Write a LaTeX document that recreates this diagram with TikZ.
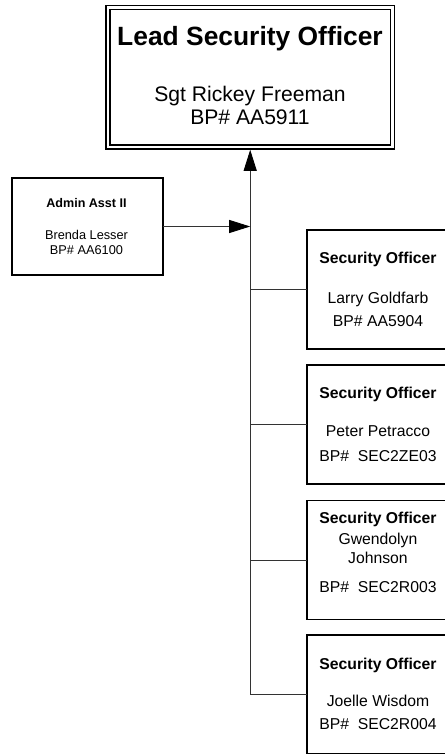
\documentclass[tikz,border=0pt]{standalone}
\usepackage{fontspec}
\setmainfont{Liberation Sans}
\usetikzlibrary{arrows.meta}
\tikzset{
  box/.style={draw=black, line width=1.6bp, rectangle, inner sep=0, outer sep=0},
  topbox/.style={draw=black, line width=1.4bp, double=white, double distance=2.6bp, rectangle, inner sep=0, outer sep=0},
  txt/.style={inner sep=0, outer sep=0, text depth=0pt, anchor=center},
  conn/.style={draw=black!80, line width=0.9bp},
  tip/.style={-{Triangle[length=21bp,width=13bp,fill=black,color=black]}},
  ftitle/.style={font=\fontsize{26.5}{30}\selectfont\bfseries, text height=19bp},
  fbig/.style={font=\fontsize{21.2}{24}\selectfont, text height=15.2bp},
  fadmb/.style={font=\fontsize{12.6}{15}\selectfont\bfseries, text height=9bp},
  fadm/.style={font=\fontsize{12.8}{15}\selectfont, text height=9.2bp},
  fsob/.style={font=\fontsize{15.8}{18}\selectfont\bfseries, text height=11.3bp},
  fso/.style={font=\fontsize{15.8}{18}\selectfont, text height=11.3bp},
}
\begin{document}
\begin{tikzpicture}[x=1bp,y=-1bp]
\useasboundingbox (0,0) rectangle (445,754);
\clip (0,0) rectangle (445,754);
\fill[white] (0,0) rectangle (445,754);
% boxes
\node[topbox, minimum width=284bp, minimum height=139.5bp] (top) at (250.2,77.2) {};
\node[box, minimum width=151bp, minimum height=97bp] (admin) at (87.5,226.5) {};
\node[box, minimum width=142bp, minimum height=119bp] (so1) at (378,289.5) {};
\node[box, minimum width=142bp, minimum height=119bp] (so2) at (378,424.5) {};
\node[box, minimum width=142bp, minimum height=119bp] (so3) at (378,560) {};
\node[box, minimum width=142bp, minimum height=119bp] (so4) at (378,694.5) {};
% texts
\node[txt, ftitle] (t1) at (250,36.5) {Lead Security Officer};
\node[txt, fbig] (t2) at (250,93.5) {Sgt Rickey Freeman};
\node[txt, fbig] (t3) at (250,117) {BP\# AA5911};
\node[txt, fadmb] (a1) at (86.5,203) {Admin Asst II};
\node[txt, fadm] (a2) at (86.5,235) {Brenda Lesser};
\node[txt, fadm] (a3) at (86.5,249.5) {BP\# AA6100};
\node[txt, fsob] (s1a) at (378,258) {Security Officer};
\node[txt, fso] (s1b) at (378,298) {Larry Goldfarb};
\node[txt, fso] (s1c) at (378,321) {BP\# AA5904};
\node[txt, fsob] (s2a) at (378,393) {Security Officer};
\node[txt, fso] (s2b) at (378,430.5) {Peter Petracco};
\node[txt, fso] (s2c) at (378,455.5) {BP\#\ \ SEC2ZE03};
\node[txt, fsob] (s3a) at (378,518) {Security Officer};
\node[txt, fso] (s3b) at (378,539) {Gwendolyn};
\node[txt, fso] (s3c) at (378,558) {Johnson};
\node[txt, fso] (s3d) at (378,586.5) {BP\#\ \ SEC2R003};
\node[txt, fsob] (s4a) at (378,663.5) {Security Officer};
\node[txt, fso] (s4b) at (378,701) {Joelle Wisdom};
\node[txt, fso] (s4c) at (378,724) {BP\#\ \ SEC2R004};
% connectors
\draw[conn, tip, shorten >=2.8bp] (so4.west) -| (top.south);
\draw[conn] (so1.west) -- (so1.west -| top.south);
\draw[conn] (so2.west) -- (so2.west -| top.south);
\draw[conn] (so3.west) -- (so3.west -| top.south);
\draw[conn, tip] (admin.east) -- (admin.east -| top.south);
\end{tikzpicture}
\end{document}
